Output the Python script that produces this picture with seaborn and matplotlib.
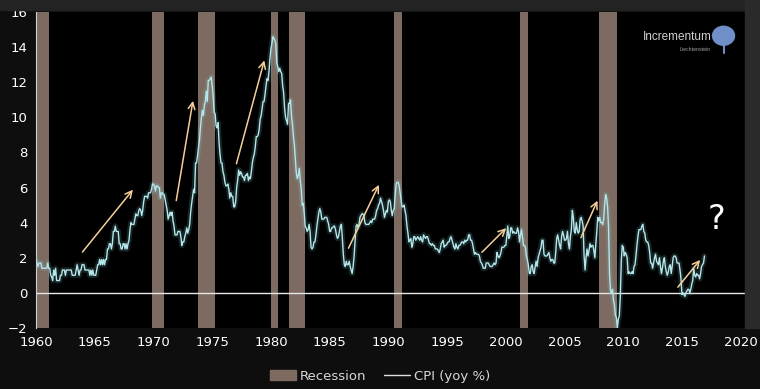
import matplotlib
matplotlib.use("Agg")
import matplotlib.pyplot as plt
import matplotlib.patches as mpatches
from matplotlib.lines import Line2D
import numpy as np
import pandas as pd
import seaborn as sns

# US CPI year-over-year change (%), monthly
cpi_1960s = [1.9, 1.7, 1.5, 1.7, 1.7, 1.7, 1.4, 1.4, 1.4, 1.4, 1.4, 1.4,
             1.7, 1.4, 1.4, 1.0, 0.9, 0.7, 1.3, 1.0, 1.4, 0.7, 0.7, 0.7,
             0.7, 1.0, 1.0, 1.3, 1.3, 1.3, 1.0, 1.3, 1.3, 1.3, 1.3, 1.3,
             1.3, 1.0, 1.0, 1.0, 1.0, 1.3, 1.6, 1.3, 1.0, 1.3, 1.3, 1.6,
             1.6, 1.6, 1.3, 1.3, 1.3, 1.3, 1.3, 1.0, 1.3, 1.0, 1.3, 1.0,
             1.0, 1.0, 1.3, 1.6, 1.6, 1.9, 1.6, 1.9, 1.6, 1.9, 1.6, 1.9,
             1.9, 2.5, 2.5, 2.8, 2.8, 2.5, 2.8, 3.5, 3.5, 3.8, 3.5, 3.5,
             3.5, 2.8, 2.8, 2.5, 2.5, 2.8, 2.8, 2.5, 2.8, 2.5, 2.8, 3.0,
             3.6, 4.0, 3.9, 3.9, 3.9, 4.2, 4.5, 4.4, 4.4, 4.7, 4.8, 4.7,
             4.4, 4.7, 5.2, 5.5, 5.5, 5.5, 5.4, 5.7, 5.7, 5.7, 5.9, 6.2]
cpi_1970s = [6.2, 6.1, 5.8, 6.1, 6.1, 6.0, 6.0, 5.4, 5.7, 5.7, 5.6, 5.6,
             5.3, 5.0, 4.7, 4.2, 4.4, 4.6, 4.4, 4.6, 4.1, 3.8, 3.3, 3.3,
             3.3, 3.5, 3.5, 3.5, 3.2, 2.7, 2.9, 2.9, 3.2, 3.4, 3.7, 3.4,
             3.6, 3.9, 4.6, 5.1, 5.5, 5.9, 5.7, 7.4, 7.4, 7.8, 8.3, 8.7,
             9.4, 10.0, 10.4, 10.1, 10.7, 10.9, 11.5, 10.9, 12.1, 12.1, 12.2, 12.3,
             11.8, 11.2, 10.3, 10.2, 9.5, 9.4, 9.7, 8.6, 7.9, 7.4, 7.4, 6.9,
             6.7, 6.3, 6.1, 6.1, 6.2, 5.9, 5.4, 5.7, 5.5, 5.5, 4.9, 4.9,
             5.2, 6.0, 6.4, 7.0, 6.7, 6.9, 6.8, 6.6, 6.6, 6.4, 6.7, 6.7,
             6.8, 6.4, 6.6, 6.5, 6.9, 7.4, 7.7, 7.9, 8.3, 8.9, 8.9, 9.0,
             9.3, 9.9, 10.1, 10.5, 10.9, 10.9, 11.3, 11.8, 12.2, 12.1, 12.6, 13.3]
cpi_1980s = [13.9, 14.2, 14.6, 14.5, 14.4, 14.2, 13.1, 12.9, 12.6, 12.8, 12.6, 12.5,
             11.8, 11.4, 10.5, 10.0, 9.8, 9.6, 10.8, 10.8, 11.0, 10.1, 9.6, 8.9,
             8.4, 7.6, 6.8, 6.5, 6.7, 7.1, 6.4, 5.9, 5.0, 5.1, 4.6, 3.8,
             3.7, 3.5, 3.6, 3.9, 3.5, 2.6, 2.5, 2.6, 2.9, 2.9, 3.3, 3.8,
             4.2, 4.6, 4.8, 4.6, 4.2, 4.2, 4.2, 4.3, 4.3, 4.3, 4.1, 3.9,
             3.5, 3.5, 3.7, 3.7, 3.8, 3.8, 3.6, 3.3, 3.1, 3.2, 3.5, 3.8,
             3.9, 3.1, 2.2, 1.6, 1.5, 1.8, 1.6, 1.6, 1.8, 1.5, 1.3, 1.1,
             1.5, 2.1, 3.0, 3.8, 3.9, 3.7, 3.9, 4.3, 4.4, 4.5, 4.5, 4.4,
             4.0, 3.9, 3.9, 3.9, 3.9, 4.0, 4.1, 4.0, 4.2, 4.2, 4.2, 4.4,
             4.7, 4.8, 5.0, 5.1, 5.4, 5.2, 5.0, 4.7, 4.3, 4.5, 4.7, 4.6]
cpi_1990s = [5.2, 5.3, 5.2, 4.7, 4.4, 4.7, 4.8, 5.6, 6.2, 6.3, 6.3, 6.1,
             5.7, 5.3, 4.9, 4.9, 5.0, 4.7, 4.4, 3.8, 3.4, 2.9, 3.0, 3.1,
             2.6, 2.8, 3.2, 3.2, 3.0, 3.1, 3.2, 3.1, 3.0, 3.2, 3.0, 2.9,
             3.3, 3.2, 3.1, 3.2, 3.2, 3.0, 2.8, 2.8, 2.7, 2.8, 2.7, 2.7,
             2.5, 2.5, 2.5, 2.4, 2.3, 2.5, 2.8, 2.9, 3.0, 2.6, 2.7, 2.7,
             2.8, 2.9, 2.9, 3.1, 3.2, 3.0, 2.8, 2.6, 2.5, 2.8, 2.6, 2.5,
             2.7, 2.7, 2.8, 2.9, 2.9, 2.8, 3.0, 2.9, 3.0, 3.0, 3.3, 3.3,
             3.0, 3.0, 2.8, 2.5, 2.2, 2.3, 2.2, 2.2, 2.2, 2.1, 1.8, 1.7,
             1.6, 1.4, 1.4, 1.4, 1.7, 1.7, 1.7, 1.6, 1.5, 1.5, 1.5, 1.6,
             1.7, 1.6, 1.7, 2.3, 2.1, 2.0, 2.1, 2.3, 2.6, 2.6, 2.6, 2.7]
cpi_2000s = [2.7, 3.2, 3.8, 3.1, 3.2, 3.7, 3.7, 3.4, 3.5, 3.4, 3.4, 3.4,
             3.7, 3.5, 2.9, 3.3, 3.6, 3.2, 2.7, 2.7, 2.6, 2.1, 1.9, 1.6,
             1.1, 1.1, 1.5, 1.6, 1.2, 1.1, 1.5, 1.8, 1.5, 2.0, 2.2, 2.4,
             2.6, 3.0, 3.0, 2.2, 2.1, 2.1, 2.1, 2.2, 2.3, 2.0, 1.8, 1.9,
             1.9, 1.7, 1.7, 2.3, 3.1, 3.3, 3.0, 2.7, 2.5, 3.2, 3.5, 3.3,
             3.0, 3.0, 3.1, 3.5, 2.8, 2.5, 3.2, 3.6, 4.7, 4.3, 3.5, 3.4,
             4.0, 3.6, 3.4, 3.5, 4.2, 4.3, 4.1, 3.8, 2.1, 1.3, 2.0, 2.5,
             2.1, 2.4, 2.8, 2.6, 2.7, 2.7, 2.4, 2.0, 2.8, 3.5, 4.3, 4.1,
             4.3, 4.0, 4.0, 3.9, 4.2, 5.0, 5.6, 5.4, 4.9, 3.7, 1.1, 0.1,
             0.0, 0.2, -0.4, -0.7, -1.3, -1.4, -2.0, -1.5, -1.3, -0.2, 1.8, 2.7]
cpi_2010s = [2.6, 2.1, 2.3, 2.2, 2.0, 1.1, 1.2, 1.1, 1.1, 1.2, 1.1, 1.5,
             1.6, 2.1, 2.7, 3.2, 3.6, 3.6, 3.6, 3.8, 3.9, 3.5, 3.4, 3.0,
             2.9, 2.9, 2.7, 2.3, 1.7, 1.7, 1.4, 1.7, 2.0, 2.2, 1.8, 1.7,
             1.6, 2.0, 1.5, 1.1, 1.4, 1.8, 2.0, 1.5, 1.2, 1.0, 1.2, 1.5,
             1.6, 1.1, 1.5, 2.0, 2.1, 2.1, 2.0, 1.7, 1.7, 1.7, 1.3, 0.8,
             -0.1, 0.0, -0.1, -0.2, 0.0, 0.1, 0.2, 0.2, 0.0, 0.2, 0.5, 0.7,
             1.4, 1.0, 0.9, 1.1, 1.0, 1.0, 0.8, 1.1, 1.5, 1.6, 1.7, 2.1]

# NBER recessions (decimal years)
rec_start = [1960.0, 1969.9, 1973.8, 1980.0, 1981.5, 1990.5, 2001.2, 2007.9]
rec_end = [1961.1, 1970.9, 1975.2, 1980.6, 1982.9, 1991.2, 2001.9, 2009.5]

# annotation arrows (start year, start value, end year, end value)
arrow_x0 = [1963.8, 1971.9, 1977.0, 1986.5, 1997.8, 2006.3, 2014.5]
arrow_y0 = [2.2, 5.1, 7.2, 2.4, 2.2, 3.0, 0.2]
arrow_x1 = [1968.4, 1973.4, 1979.5, 1989.3, 2000.2, 2007.9, 2016.7]
arrow_y1 = [6.0, 11.1, 13.4, 6.3, 3.8, 5.4, 2.0]

cpi = cpi_1960s + cpi_1970s + cpi_1980s + cpi_1990s + cpi_2000s + cpi_2010s
df = pd.DataFrame({"year": 1960 + np.arange(len(cpi)) / 12.0, "cpi": cpi})

sns.set_style("dark")
plt.rcParams["font.family"] = ["DejaVu Sans"]

fig = plt.figure(figsize=(7.6, 3.89), dpi=100, facecolor="#0e0e0e")
fig.patches.append(mpatches.Rectangle((0, 0.975), 1, 0.025, transform=fig.transFigure,
                                      color="#232323", zorder=0))
fig.patches.append(mpatches.Rectangle((0.98, 0.157), 0.02, 0.843, transform=fig.transFigure,
                                      color="#2a2a2a", zorder=0))
ax = fig.add_axes([0.0474, 0.157, 0.9326, 0.812])
ax.set_facecolor("black")

rec_color = "#7d6b61"
for s, e in zip(rec_start, rec_end):
    ax.axvspan(s, e, color=rec_color, lw=0, zorder=1)

ax.axhline(0, color="#e8e8e8", lw=1.0, zorder=2)

# glow under the line
ax.plot(df["year"], df["cpi"], color="#7fc7cc", lw=4, alpha=0.18, zorder=3)
sns.lineplot(data=df, x="year", y="cpi", ax=ax, color="#b4e6ea", lw=1.0, zorder=4)

for x0, y0, x1, y1 in zip(arrow_x0, arrow_y0, arrow_x1, arrow_y1):
    ax.annotate("", xy=(x1, y1), xytext=(x0, y0),
                arrowprops=dict(arrowstyle="->", color="#f6cf98", lw=1.1,
                                mutation_scale=12), zorder=5)

ax.text(2017.9, 4.2, "?", color="white", fontsize=24, ha="center", va="center", zorder=6)

# logo
ax.text(0.953, 0.921, "Incrementum", transform=ax.transAxes, color="#d0d0d0",
        fontsize=8.5, ha="right", va="center",
        family=["Liberation Sans Narrow", "Liberation Sans"], zorder=6)
ax.text(0.952, 0.883, "Liechtenstein", transform=ax.transAxes, color="#a0a0a0",
        fontsize=3.8, ha="right", va="center", family=["Liberation Sans"], zorder=6)
ax.add_patch(mpatches.Ellipse((0.970, 0.925), 0.031, 0.06, transform=ax.transAxes,
                              color="#6f8fc8", zorder=6))
ax.plot([0.970, 0.970], [0.87, 0.9], transform=ax.transAxes, color="#6f8fc8",
        lw=1.5, zorder=6)

ax.set_xlim(1960, 2020.35)
ax.set_ylim(-2, 16)
ax.set_xticks(range(1960, 2021, 5))
ax.set_yticks(range(-2, 17, 2))
ax.tick_params(colors="white", labelsize=9.5, length=0, pad=6)
ax.set_xlabel("")
ax.set_ylabel("")
ax.grid(False)
for side in ["top", "right", "bottom"]:
    ax.spines[side].set_visible(False)
ax.spines["left"].set_color("#cfcfcf")
ax.spines["left"].set_linewidth(0.8)

handles = [mpatches.Patch(color=rec_color, label="Recession"),
           Line2D([0], [0], color="#e0e0e0", lw=1, label="CPI (yoy %)")]
fig.legend(handles=handles, loc="center", bbox_to_anchor=(0.5, 0.033), ncol=2,
           frameon=False, fontsize=9.5, labelcolor="#d8d8d8", handlelength=2.0,
           handleheight=0.8, handletextpad=0.3, columnspacing=1.3)

fig.savefig("out.png", dpi=100, facecolor=fig.get_facecolor())
